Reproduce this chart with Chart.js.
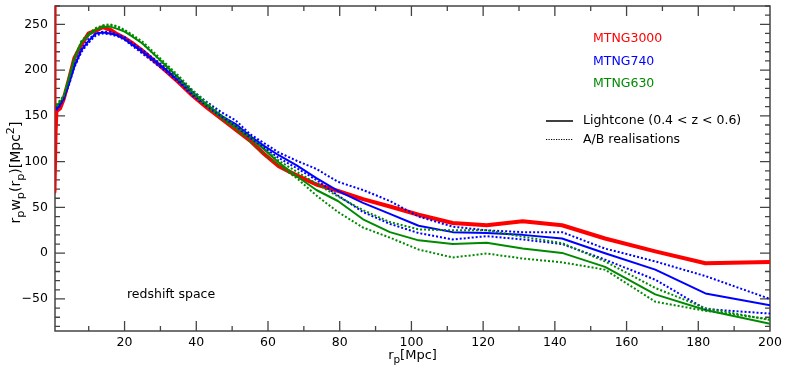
<!DOCTYPE html>
<html>
<head>
<meta charset="utf-8">
<script src="https://cdn.jsdelivr.net/npm/chart.js@4/dist/chart.umd.min.js"></script>
<style>
html,body{margin:0;padding:0;background:#fff;}
canvas{display:block;}
</style>
</head>
<body>
<canvas id="c" width="789" height="371"></canvas>
<script>
// projected separation bins r_p [Mpc]
const rp = [1, 2, 3, 4.5, 6, 8, 10, 12, 14, 16, 18, 20, 22, 25, 28, 31, 35, 39, 43, 47, 51, 55, 59, 63, 68, 73.5, 79.5, 86.5, 94, 102, 111.5, 121, 131, 142, 154, 168, 182, 200];

// innermost MTNG3000 bins (mostly off the plotted range)
const rpInner3000 = [0.5, 0.45, 0.75];
const mtng3000Inner = [330, 67, 131];

// Lightcone (0.4 < z < 0.6)
const mtng3000 = [155, 158, 168, 190, 213, 228, 240, 243, 247, 244, 239, 235, 230, 221, 211, 201, 187, 172, 159, 147, 135, 123, 108, 95, 85, 75, 68, 59, 51, 42, 33, 30.5, 35, 30.5, 16, 2, -11, -9.5];
const mtng740 = [157, 162, 170, 185, 204, 222, 232, 240, 241, 240, 238, 234, 228, 220, 211, 202, 189, 174, 162, 150, 141, 128, 117, 107, 96, 82, 68, 55, 43, 30, 23, 22, 20, 16, 0, -18, -44, -57];
const mtng630 = [160, 165, 170, 190, 212, 230, 238, 244, 247, 247.5, 245, 242, 237, 229, 218, 207, 192, 176, 162, 149, 138, 126, 113, 99, 84, 69, 57, 37, 23, 14, 10, 11.3, 5, 0.3, -15, -45, -62, -77];

// A/B realisations
const mtng740A = [158, 163, 168, 186, 205, 223, 234, 240, 242, 242, 239, 236, 230, 222, 213, 204, 191, 177, 165, 154, 145, 130, 120, 110, 101, 92, 78, 69, 57, 40, 29, 25, 23, 23, 5, -9, -25, -50];
const mtng740B = [156, 161, 168, 184, 203, 220, 230, 238, 240, 239, 237, 233, 227, 218, 209, 200, 187, 172, 160, 149, 139, 126, 115, 104, 93, 80, 63, 45, 32, 22, 15, 18.6, 15, 10, -7, -29, -61, -66];
const mtng630A = [162, 167, 172, 192, 214, 232, 240, 246, 249, 250, 248, 244, 239, 231, 220, 209, 194, 178, 164, 151, 139, 127, 114, 101, 89, 76, 62, 47, 34, 26, 25, 25, 18, 11, -9, -38, -60, -73];
const mtng630B = [161, 166, 171, 191, 213, 231, 239, 245, 248, 249, 247, 243, 238, 229, 218, 206, 190, 174, 160, 147, 135, 122, 108, 96, 82, 63, 45, 28, 17, 4, -4.7, -0.4, -5.8, -10, -18, -53, -63, -72];

// axis ticks
const xTicks = [20, 40, 60, 80, 100, 120, 140, 160, 180, 200];
const yTicks = [-50, 0, 50, 100, 150, 200, 250];

// labels
const seriesNames = ['MTNG3000', 'MTNG740', 'MTNG630'];
const styleNames = ['Lightcone (0.4 < z < 0.6)', 'A/B realisations'];
const annotation = 'redshift space';

const RED = '#ff0000', BLUE = '#0000ff', GREEN = '#008a00';
const FONT = 'DejaVu Sans';
const FS = 12.5;

function pts(xs, ys) { return xs.map((x, i) => ({x: x, y: ys[i]})); }

const dotted = [2, 2];
const datasets = [
  {data: pts(rp, mtng630B), borderColor: GREEN, borderWidth: 2, borderDash: dotted},
  {data: pts(rp, mtng630A), borderColor: GREEN, borderWidth: 2, borderDash: dotted},
  {data: pts(rp, mtng740B), borderColor: BLUE, borderWidth: 2, borderDash: dotted},
  {data: pts(rp, mtng740A), borderColor: BLUE, borderWidth: 2, borderDash: dotted},
  {data: pts(rp, mtng630), borderColor: GREEN, borderWidth: 2},
  {data: pts(rp, mtng740), borderColor: BLUE, borderWidth: 2},
  {data: pts(rpInner3000, mtng3000Inner).concat(pts(rp, mtng3000)), borderColor: RED, borderWidth: 4}
].map(d => Object.assign({pointRadius: 0, tension: 0, fill: false, clip: 0, borderJoinStyle: 'round'}, d));

const framePlugin = {
  id: 'frame',
  beforeDatasetsDraw(chart) {
    const {ctx, chartArea: a, scales: {x, y}} = chart;
    ctx.save();
    ctx.strokeStyle = '#444';
    ctx.lineWidth = 1.3;
    ctx.beginPath();
    for (let v = 10; v < 200; v += 10) {
      const px = x.getPixelForValue(v);
      const L = (v % 20 === 0) ? 10 : 5;
      ctx.moveTo(px, a.bottom); ctx.lineTo(px, a.bottom - L);
      ctx.moveTo(px, a.top); ctx.lineTo(px, a.top + L);
    }
    for (let v = -80; v <= 270; v += 10) {
      const py = y.getPixelForValue(v);
      const L = (v % 50 === 0) ? 10 : 5;
      ctx.moveTo(a.left, py); ctx.lineTo(a.left + L, py);
      ctx.moveTo(a.right, py); ctx.lineTo(a.right - L, py);
    }
    ctx.stroke();
    ctx.lineWidth = 1.5;
    ctx.strokeRect(a.left, a.top, a.right - a.left, a.bottom - a.top);
    ctx.restore();
  },
  afterDraw(chart) {
    const {ctx, chartArea: a} = chart;
    ctx.save();
    ctx.textBaseline = 'middle';
    ctx.textAlign = 'left';
    const f = (s) => s + 'px "' + FONT + '"';
    // series legend
    const cols = [RED, BLUE, GREEN];
    seriesNames.forEach((n, i) => {
      ctx.fillStyle = cols[i];
      ctx.font = f(FS);
      ctx.fillText(n, a.right - 177, a.top + 33 + i * 22.5);
    });
    // style legend
    ctx.fillStyle = '#000';
    ctx.strokeStyle = '#000';
    ctx.font = f(FS);
    const lx0 = a.right - 224, lx1 = a.right - 197, tx = a.right - 187;
    const ly0 = a.top + 115, ly1 = a.top + 133.5;
    ctx.lineWidth = 1.5;
    ctx.beginPath(); ctx.moveTo(lx0, ly0); ctx.lineTo(lx1, ly0); ctx.stroke();
    ctx.lineWidth = 1.2;
    ctx.setLineDash([1.2, 1.3]);
    ctx.beginPath(); ctx.moveTo(lx0, ly1); ctx.lineTo(lx1, ly1); ctx.stroke();
    ctx.setLineDash([]);
    ctx.fillText(styleNames[0], tx, ly0);
    ctx.fillText(styleNames[1], tx, ly1);
    // annotation
    ctx.fillText(annotation, a.left + 72, a.bottom - 36);

    // axis titles with sub/superscripts
    const SUB = 0.8;
    function rich(parts, startX, baseY, fs) {
      let cx = startX;
      parts.forEach(p => {
        const size = p.t ? fs * SUB : fs;
        ctx.font = f(size);
        const dy = p.t === 'sub' ? fs * 0.28 : (p.t === 'sup' ? -fs * 0.42 : 0);
        ctx.fillText(p.s, cx, baseY + dy);
        cx += ctx.measureText(p.s).width;
      });
      return cx - startX;
    }
    function richWidth(parts, fs) {
      let w = 0;
      parts.forEach(p => { ctx.font = f(p.t ? fs * SUB : fs); w += ctx.measureText(p.s).width; });
      return w;
    }
    ctx.textBaseline = 'alphabetic';
    const XFS = 13;
    const xt = [{s: 'r'}, {s: 'p', t: 'sub'}, {s: '[Mpc]'}];
    const wx = richWidth(xt, XFS);
    rich(xt, (a.left + a.right) / 2 - wx / 2, 359, XFS);

    const YFS = 14;
    const yt = [{s: 'r'}, {s: 'p', t: 'sub'}, {s: 'w'}, {s: 'p', t: 'sub'}, {s: '(r'}, {s: 'p', t: 'sub'}, {s: ')[Mpc'}, {s: '2', t: 'sup'}, {s: ']'}];
    const wy = richWidth(yt, YFS);
    ctx.translate(20, (a.top + a.bottom) / 2 + 4);
    ctx.rotate(-Math.PI / 2);
    rich(yt, -wy / 2, 0, YFS);
    ctx.restore();
  }
};

new Chart(document.getElementById('c'), {
  type: 'line',
  data: {datasets: datasets},
  options: {
    responsive: false,
    animation: false,
    devicePixelRatio: 1,
    layout: {padding: {left: 0, right: 19, top: 6, bottom: 0}},
    plugins: {legend: {display: false}, tooltip: {enabled: false}},
    scales: {
      x: {
        type: 'linear', min: 0.6, max: 200,
        grid: {display: false, drawTicks: false},
        border: {display: false},
        afterBuildTicks: s => { s.ticks = xTicks.map(v => ({value: v})); },
        afterFit: s => { s.height = 40; s.paddingLeft = 0; s.paddingRight = 0; },
        ticks: {color: '#000', font: {family: FONT, size: FS}, padding: 4, maxRotation: 0, autoSkip: false}
      },
      y: {
        type: 'linear', min: -85, max: 270,
        grid: {display: false, drawTicks: false},
        border: {display: false},
        afterBuildTicks: s => { s.ticks = yTicks.map(v => ({value: v})); },
        afterFit: s => { s.width = 55; s.paddingTop = 0; s.paddingBottom = 0; },
        ticks: {color: '#000', font: {family: FONT, size: FS}, padding: 7, autoSkip: false,
                callback: v => (v < 0 ? '\u2212' + Math.abs(v) : String(v))}
      }
    }
  },
  plugins: [framePlugin]
});
</script>
</body>
</html>
